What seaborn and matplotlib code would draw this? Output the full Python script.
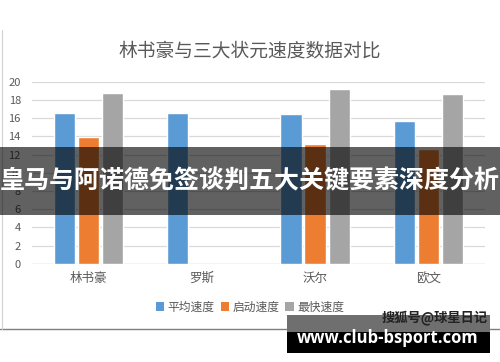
import matplotlib
matplotlib.use("Agg")
import matplotlib.pyplot as plt
import seaborn as sns
import numpy as np
import pandas as pd
from matplotlib.patches import Rectangle, Patch
from matplotlib.lines import Line2D

# ---- data ----
players = ["林书豪", "罗斯", "沃尔", "欧文"]
series = ["平均速度", "启动速度", "最快速度"]
avg_speed = [16.6, 16.6, 16.5, 15.7]
start_speed = [13.9, np.nan, 13.2, 12.6]
top_speed = [18.8, np.nan, 19.2, 18.7]
yticks = [0, 2, 4, 6, 8, 10, 12, 14, 16, 18, 20]
title = "林书豪与三大状元速度数据对比"
banner = "皇马与阿诺德免签谈判五大关键要素深度分析"
watermark = "搜狐号@球星日记"
site = "www.club-bsport.com"
colors = ["#5B9BD5", "#ED7D31", "#A5A5A5"]

rows = []
for s, vals in zip(series, [avg_speed, start_speed, top_speed]):
    for p, v in zip(players, vals):
        rows.append({"player": p, "series": s, "value": v})
df = pd.DataFrame(rows)

sns.set_theme(style="white")
plt.rcParams["font.family"] = ["Noto Sans CJK SC", "DejaVu Sans"]

fig = plt.figure(figsize=(5, 3.62), dpi=100)
ax = fig.add_axes([0.064, 0.271, 0.906, 0.503])

sns.barplot(data=df, x="player", y="value", hue="series", order=players,
            hue_order=series, palette=colors, width=0.64, gap=0.12,
            errorbar=None, legend=False, ax=ax, saturation=1)

ax.set_ylim(0, 20)
ax.set_xlim(-0.5, 3.5)
ax.set_yticks(yticks)
ax.set_yticklabels([str(t) for t in yticks], fontsize=8, color="#595959")
ax.tick_params(axis="x", labelsize=9, colors="#595959", length=0, pad=6)
ax.tick_params(axis="y", length=0, pad=8)
ax.set_xlabel("")
ax.set_ylabel("")
ax.grid(axis="y", color="#D9D9D9", linewidth=0.9)
ax.set_axisbelow(True)
for sp in ax.spines.values():
    sp.set_visible(False)
ax.axhline(0, color="#D9D9D9", linewidth=1.0, zorder=0)

fig.text(0.5, 1 - 50.7 / 362, title, ha="center", va="center",
         fontsize=13.5, color="#595959")

handles = [Patch(facecolor=c, edgecolor="none") for c in colors]
fig.legend(handles, series, loc="center", bbox_to_anchor=(0.5, 1 - 307 / 362),
           ncol=3, frameon=False, fontsize=8.5, handlelength=0.7,
           handleheight=0.7, handletextpad=0.3, columnspacing=0.5,
           labelcolor="#595959")

# chart frame
fig.add_artist(Line2D([0, 1], [1 - 329 / 362] * 2, color="#7f7f7f", linewidth=1.0))
fig.add_artist(Line2D([2 / 500] * 2, [1 - 329 / 362, 1 - 30 / 362], color="#d0d0d0", linewidth=0.8))

# banner overlay
fig.add_artist(Rectangle((0, 1 - 215 / 362), 1, 68 / 362, transform=fig.transFigure,
                         facecolor="black", alpha=0.62, edgecolor="none", zorder=5))
fig.text(0.5, 1 - 181 / 362, banner, ha="center", va="center", fontsize=18,
         fontweight="bold", color="white", zorder=6)

# watermark boxes
fig.add_artist(Rectangle((287 / 500, 1 - 332 / 362), 203 / 500, 17 / 362, transform=fig.transFigure,
                         facecolor="#6f6f6f", edgecolor="none", zorder=5))
fig.add_artist(Rectangle((287 / 500, 1 - 353 / 362), 203 / 500, 21 / 362, transform=fig.transFigure,
                         facecolor="black", edgecolor="none", zorder=5))
fig.text(488 / 500, 1 - 318 / 362, watermark, ha="right", va="center", fontsize=9.5,
         fontweight="bold", color="#222222", zorder=6)
fig.text(388 / 500, 1 - 338 / 362, site, ha="center", va="center", fontsize=12,
         fontweight="bold", color="white", family=["Open Sans", "DejaVu Sans"], zorder=6)

fig.savefig("out.png", dpi=100)
